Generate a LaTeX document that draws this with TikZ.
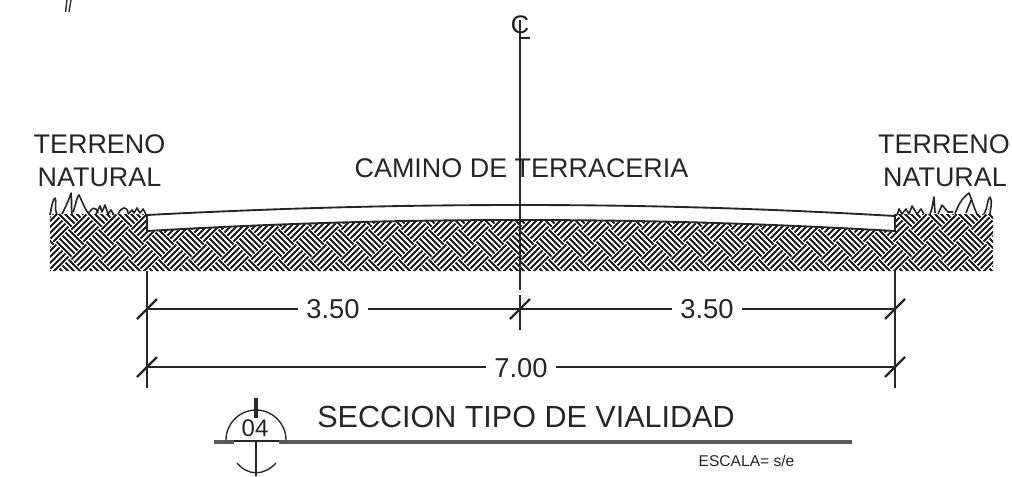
\documentclass[tikz,border=0pt]{standalone}
\usepackage{fontspec}
\usetikzlibrary{calc}
\setmainfont{Liberation Sans}
\tikzset{
  x=0.75pt,y=-0.75pt,
  ink/.style={draw=black!85,line width=1.4pt},
  thin ink/.style={draw=black!85,line width=1pt},
  slash/.style={draw=black!85,line width=1.7pt},
  grass/.style={draw=black!85,line width=1.2pt,line join=round},
  big/.style={font=\fontsize{20.2}{22}\selectfont,text=black!85,inner sep=0pt},
  dim/.style={font=\fontsize{20.5}{22}\selectfont,text=black!85,inner sep=0pt,fill=white,inner xsep=6pt},
  hatch/.style={draw=black!90,line width=1.45pt},
}
\begin{document}
\begin{tikzpicture}
\useasboundingbox (0,0) rectangle (1012,476);
% hatched ground
\begin{scope}
\clip (50,214) -- (147,214) -- (147,231) .. controls (300,222) and (420,220) .. (520,220)
  .. controls (620,220) and (740,222) .. (895,231) -- (895,214) -- (993,214) -- (993,271) -- (50,271) -- cycle;
\foreach \s in {-34,...,34}{
  \foreach \d in {-4,...,4}{
    \pgfmathtruncatemacro{\tilevis}{mod(abs(\s+\d),2)==0}
    \ifnum\tilevis=1
      \pgfmathsetmacro{\cx}{520+\s*15}
      \pgfmathsetmacro{\cy}{243+\d*15}
      \pgfmathtruncatemacro{\tileodd}{mod(abs(\s),2)}
      \begin{scope}[shift={(\cx,\cy)}]
      \foreach \k in {0.5,1.5,2.5,3.5,4.5}{
        \ifnum\tileodd=0
          \draw[hatch] (-15+\k*3,-\k*3) -- (\k*3,15-\k*3);
        \else
          \draw[hatch] (-15+\k*3,\k*3) -- (\k*3,-15+\k*3);
        \fi
      }
      \end{scope}
    \fi
  }
}
\end{scope}
% road
\draw[ink] (147,231) .. controls (300,222) and (420,220) .. (520,220)
  .. controls (620,220) and (740,222) .. (895,231);
\draw[ink] (147,215) .. controls (300,207) and (420,205) .. (520,205)
  .. controls (620,205) and (740,207) .. (895,216);
% grass
\draw[grass] (50,215) .. controls (52,205) and (53,199) .. (55,198) .. controls (57,200) and (54,210) .. (57,215)
  (62,214) .. controls (65,208) and (69,200) .. (71,193) .. controls (72,200) and (71,208) .. (72,214)
  (73,212) .. controls (76,204) and (77,196) .. (79,195) .. controls (83,203) and (86,212) .. (90,215)
  (88,214) .. controls (92,208) and (95,205) .. (98,213) (96,214) -- (100,206) -- (102,212) -- (105,205) -- (108,214)
  (108,214) -- (111,210) -- (114,215) (118,214) .. controls (122,206) and (127,206) .. (128,213)
  (128,214) -- (132,210) -- (134,213) -- (137,208) -- (140,213) -- (143,209) -- (146,214);
\draw[grass] (897,215) -- (899,209) -- (902,214) -- (906,209) -- (909,214) -- (912,206) -- (917,214) -- (921,209) -- (924,214)
  (930,214) .. controls (933,207) and (933,200) .. (934,197) -- (935,213)
  (938,214) -- (942,205) -- (948,212) -- (953,212)
  (955,214) .. controls (958,205) and (962,198) .. (969,193) .. controls (972,200) and (974,208) .. (977,214)
  (966,213) .. controls (968,207) and (970,204) .. (971,200)
  (984,214) .. controls (988,208) and (987,199) .. (990,197) .. controls (993,201) and (990,210) .. (990,214);
% block edges
\draw[ink] (147,214) -- (147,232);
\draw[ink] (895,214) -- (895,232);
% centre line
\node[font=\fontsize{19}{20}\selectfont,text=black!90,inner sep=0pt] (cl) at (520,25) {C};
\coordinate (cltop) at (520,20);
\coordinate (clbot) at (520,290);
\draw[ink] (cltop) -- (clbot);
\coordinate (cltick) at (530,38);
\draw[thin ink] (520,38) -- (cltick);
% labels
\node[big,fill=white,inner xsep=1pt] (cam) at (521.5,168) {CAMINO DE TERRACERIA};
\draw[ink] (520,148) -- (520,190);
\node[big] (t1) at (99.5,144) {TERRENO};
\node[big] (n1) at (99.5,177) {NATURAL};
\node[big] (t2) at (944,144) {TERRENO};
\node[big] (n2) at (945,177) {NATURAL};
% dimensions
\coordinate (a1) at (147,309); \coordinate (a2) at (520,309); \coordinate (a3) at (895,309);
\coordinate (b1) at (147,367); \coordinate (b3) at (895,367);
\draw[thin ink] (a1) -- (a2) -- (a3);
\draw[thin ink] (b1) -- (b3);
\node[dim] (d1) at (333,309) {3.50};
\node[dim] (d2) at (707,309) {3.50};
\node[dim] (d3) at (521,368) {7.00};
\draw[ink] (147,271) -- (147,388);
\draw[ink] (895,271) -- (895,388);
\draw[ink] (520,295) -- (520,330);
\foreach \p in {a1,a2,a3,b1,b3}{
  \draw[slash] ($(\p)+(-10,10)$) -- ($(\p)+(10,-10)$);
}
% title
\node[font=\fontsize{22.9}{24}\selectfont,text=black!85,inner sep=0pt,anchor=west] (title) at (317,417) {SECCION TIPO DE VIALIDAD};
\node[font=\fontsize{11.7}{13}\selectfont,text=black!85,inner sep=0pt] (esc) at (746.5,461) {ESCALA= s/e};
\fill[black!65] (214,439.5) rectangle (234,443.5);
\fill[black!65] (279,439.5) rectangle (852,443.5);
\draw[thin ink] (234,441) -- (279,441);
\draw[thin ink] (226,440) arc[start angle=180,end angle=360,radius=30];
\draw[line width=3.6pt,draw=black!85] (256,398) -- (256,418);
\draw[thin ink] (256,441) -- (256,476);
\draw[thin ink] (237,463) .. controls (248,476) and (264,476) .. (276,463);
\node[font=\fontsize{18}{20}\selectfont,text=black!85,inner sep=0pt] (num) at (255,428) {04};
% mark at top left
\draw[line width=1.1pt,black!80] (67,0) -- (65.5,12) (71,0) -- (69,12);
\end{tikzpicture}
\end{document}
